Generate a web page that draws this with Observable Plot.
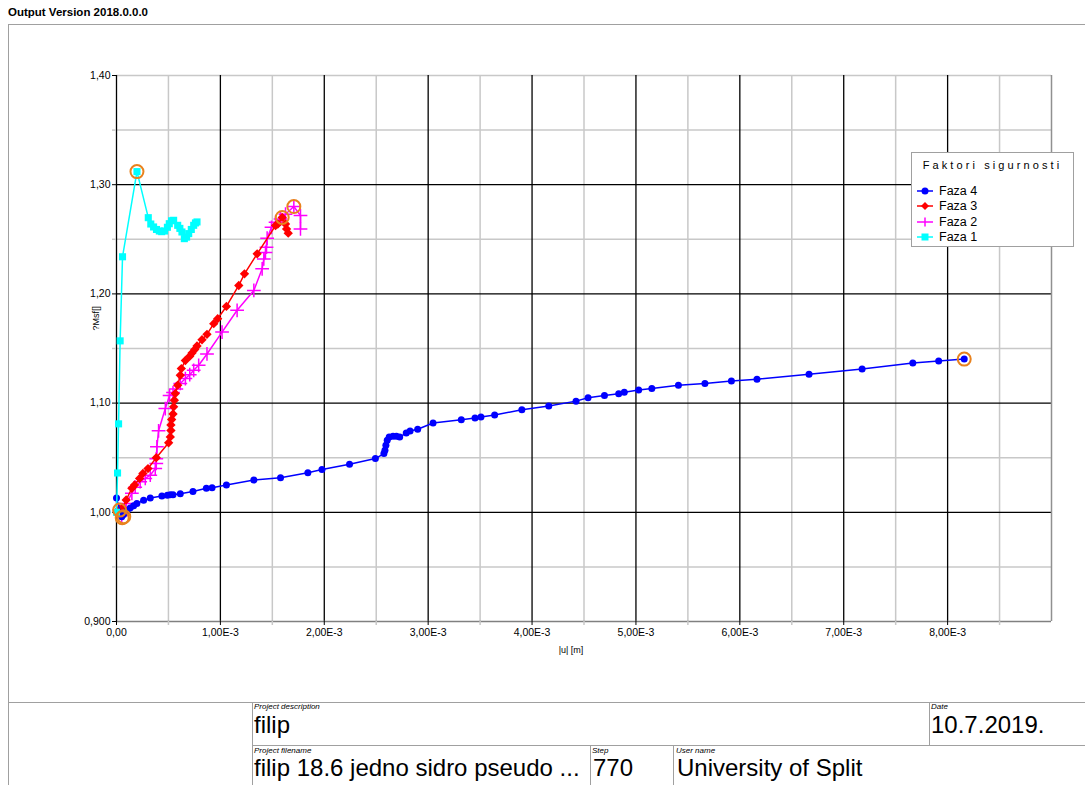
<!DOCTYPE html>
<html>
<head>
<meta charset="utf-8">
<script src="https://cdn.jsdelivr.net/npm/d3@7"></script>
<script src="https://cdn.jsdelivr.net/npm/@observablehq/plot@0.6"></script>
<style>
  body { margin:0; background:#fff; font-family:"Liberation Sans", Arial, sans-serif; }
  #page { position:relative; width:1085px; height:785px; overflow:hidden; background:#fff; }
  .abs { position:absolute; }
  .hl { position:absolute; height:0; border-top:1.5px solid #a0a0a0; }
  .vl { position:absolute; width:0; border-left:1.5px solid #a0a0a0; }
  .lbl { position:absolute; font-size:8px; font-style:italic; color:#000; white-space:nowrap; line-height:8px; }
  .big { position:absolute; font-size:24px; color:#000; white-space:nowrap; line-height:24px; }
  #legend { position:absolute; left:911px; top:152px; width:161px; height:93px; border:1.5px solid #a0a0a0; background:#fff; }
  #legend .title { position:absolute; left:0; top:6px; width:161px; text-align:center; font-size:11px; letter-spacing:3.1px; white-space:nowrap; }
  #legend .row { position:absolute; left:5px; height:14px; display:flex; align-items:center; font-size:12.5px; }
  #legend .row svg { margin-right:6px; }
</style>
</head>
<body>
<div id="page">
  <div class="abs" style="left:8px;top:6px;font-weight:bold;font-size:11.5px;white-space:nowrap;">Output Version 2018.0.0.0</div>
  <div class="hl" style="left:8px;top:24px;width:1077px;"></div>
  <div class="vl" style="left:8px;top:24px;height:761px;"></div>
  <div id="chart" class="abs" style="left:0;top:30px;"></div>
  <div id="legend"></div>
  <div class="hl" style="left:8px;top:702px;width:1077px;"></div>
  <div class="vl" style="left:252px;top:702px;height:83px;"></div>
  <div class="vl" style="left:929px;top:702px;height:44px;"></div>
  <div class="hl" style="left:252px;top:745px;width:833px;"></div>
  <div class="vl" style="left:590px;top:745px;height:40px;"></div>
  <div class="vl" style="left:673px;top:745px;height:40px;"></div>
  <div class="lbl" style="left:254px;top:703px;">Project description</div>
  <div class="big" style="left:254px;top:713px;">filip</div>
  <div class="lbl" style="left:931px;top:703px;">Date</div>
  <div class="big" style="left:931px;top:713px;">10.7.2019.</div>
  <div class="lbl" style="left:254px;top:746.5px;">Project filename</div>
  <div class="big" style="left:254px;top:756px;">filip 18.6 jedno sidro pseudo ...</div>
  <div class="lbl" style="left:592px;top:746.5px;">Step</div>
  <div class="big" style="left:593px;top:756px;">770</div>
  <div class="lbl" style="left:676px;top:746.5px;">User name</div>
  <div class="big" style="left:677px;top:756px;">University of Split</div>
</div>
<script>
// |u| in units of 1E-3 m, Msf dimensionless
const faza4U = [0.0, 0.05, 0.068, 0.10, 0.132, 0.165, 0.196, 0.261, 0.325, 0.437, 0.49, 0.518, 0.544, 0.614, 0.736, 0.865, 0.920, 1.058, 1.322, 1.579, 1.842, 1.978, 2.243, 2.492, 2.574, 2.584, 2.593, 2.606, 2.625, 2.662, 2.694, 2.726, 2.789, 2.826, 2.899, 3.047, 3.319, 3.451, 3.508, 3.640, 3.902, 4.161, 4.423, 4.539, 4.697, 4.834, 4.888, 5.026, 5.153, 5.409, 5.664, 5.919, 6.165, 6.666, 7.177, 7.665, 7.914, 8.160];
const faza4Msf = [1.013, 0.996, 0.998, 1.001, 1.004, 1.006, 1.008, 1.011, 1.013, 1.015, 1.0155, 1.016, 1.016, 1.017, 1.019, 1.022, 1.0225, 1.025, 1.0295, 1.0317, 1.0362, 1.0392, 1.0441, 1.0492, 1.0538, 1.0568, 1.0614, 1.066, 1.069, 1.0696, 1.0696, 1.069, 1.0726, 1.0745, 1.076, 1.0818, 1.0848, 1.0863, 1.0872, 1.0891, 1.0939, 1.0973, 1.1018, 1.1049, 1.107, 1.1085, 1.110, 1.1121, 1.1133, 1.1164, 1.1179, 1.1203, 1.1218, 1.1264, 1.1312, 1.1367, 1.1385, 1.1403];

const faza3U = [0.03, 0.06, 0.093, 0.148, 0.174, 0.222, 0.254, 0.303, 0.383, 0.502, 0.518, 0.524, 0.524, 0.531, 0.544, 0.550, 0.557, 0.566, 0.589, 0.614, 0.624, 0.663, 0.705, 0.727, 0.753, 0.775, 0.823, 0.871, 0.936, 0.974, 1.058, 1.177, 1.232, 1.354, 1.531, 1.553, 1.595, 1.627, 1.637, 1.653];
const faza3Msf = [1.003, 1.004, 1.0113, 1.022, 1.025, 1.031, 1.0356, 1.040, 1.050, 1.0637, 1.069, 1.075, 1.080, 1.085, 1.090, 1.0966, 1.1026, 1.1087, 1.1164, 1.1255, 1.1316, 1.139, 1.1429, 1.1459, 1.149, 1.1523, 1.158, 1.163, 1.1727, 1.1773, 1.1885, 1.2077, 1.2184, 1.2367, 1.2626, 1.264, 1.270, 1.264, 1.2595, 1.2556];

const faza2U = [0.05, 0.093, 0.148, 0.18, 0.228, 0.277, 0.325, 0.373, 0.383, 0.383, 0.389, 0.405, 0.470, 0.511, 0.544, 0.576, 0.614, 0.663, 0.705, 0.743, 0.791, 0.871, 1.016, 1.161, 1.322, 1.402, 1.418, 1.434, 1.444, 1.450, 1.492, 1.531, 1.579, 1.627, 1.707, 1.771, 1.771];
const faza2Msf = [0.997, 1.008, 1.0174, 1.023, 1.028, 1.031, 1.034, 1.040, 1.0448, 1.049, 1.060, 1.0746, 1.095, 1.107, 1.1097, 1.113, 1.118, 1.1225, 1.126, 1.130, 1.1346, 1.145, 1.165, 1.185, 1.2032, 1.223, 1.232, 1.238, 1.2428, 1.251, 1.261, 1.2656, 1.2687, 1.273, 1.280, 1.2717, 1.2595];

const faza1U = [0.0, 0.01, 0.02, 0.035, 0.058, 0.197, 0.306, 0.33, 0.357, 0.385, 0.412, 0.435, 0.463, 0.49, 0.508, 0.53, 0.550, 0.589, 0.61, 0.630, 0.653, 0.675, 0.695, 0.72, 0.743, 0.76, 0.775];
const faza1Msf = [1.000, 1.036, 1.081, 1.157, 1.234, 1.312, 1.2698, 1.264, 1.2613, 1.259, 1.2576, 1.257, 1.2576, 1.261, 1.2643, 1.267, 1.2674, 1.2628, 1.260, 1.2567, 1.2506, 1.252, 1.2552, 1.259, 1.2628, 1.265, 1.2659];

// highlighted (circled) points
const markedU = [0.197, 1.595, 1.707, 8.160, 0.03, 0.055, 0.07];
const markedMsf = [1.312, 1.270, 1.280, 1.1403, 1.002, 0.995, 0.996];

const xMajor = [1, 2, 3, 4, 5, 6, 7, 8];
const xMinor = [0.5, 1.5, 2.5, 3.5, 4.5, 5.5, 6.5, 7.5, 8.5];
const yMajor = [1.0, 1.1, 1.2, 1.3];
const yMinor = [0.95, 1.05, 1.15, 1.25, 1.35, 1.40];
const xTickLabels = ["0,00", "1,00E-3", "2,00E-3", "3,00E-3", "4,00E-3", "5,00E-3", "6,00E-3", "7,00E-3", "8,00E-3"];
const yTickLabels = ["0,900", "1,00", "1,10", "1,20", "1,30", "1,40"];

const colors = {"Faza 4": "#0000ff", "Faza 3": "#ff0000", "Faza 2": "#ff00ff", "Faza 1": "#00ffff"};

const tbl = (U, M) => U.map((u, i) => ({u, msf: M[i]}));
const f4 = tbl(faza4U, faza4Msf), f3 = tbl(faza3U, faza3Msf), f2 = tbl(faza2U, faza2Msf), f1 = tbl(faza1U, faza1Msf);
const marked = tbl(markedU, markedMsf);

const xLab = d => xTickLabels[Math.round(d)];
const yLab = d => yTickLabels[Math.round((d - 0.9) * 10)];

const chart = Plot.plot({
  width: 1085, height: 660,
  marginLeft: 116, marginRight: 34, marginTop: 45, marginBottom: 69,
  x: {domain: [0, 9]},
  y: {domain: [0.9, 1.4]},
  style: {fontFamily: "'Liberation Sans', Arial, sans-serif", fontSize: "10px", background: "transparent", overflow: "visible"},
  marks: [
    Plot.ruleX(xMinor, {stroke: "#c8c8c8", strokeWidth: 1.5}),
    Plot.ruleY(yMinor, {stroke: "#c8c8c8", strokeWidth: 1.5}),
    Plot.ruleX(xMajor, {stroke: "#000", strokeWidth: 1.3}),
    Plot.ruleY(yMajor, {stroke: "#000", strokeWidth: 1.3}),
    Plot.ruleX([9], {stroke: "#909090", strokeWidth: 1.5}),
    Plot.ruleY([0.9], {stroke: "#808080", strokeWidth: 1.5}),
    Plot.ruleX([0], {stroke: "#000", strokeWidth: 1.3}),
    Plot.axisX({ticks: xMinor, tickSize: 4, stroke: "#c8c8c8", strokeWidth: 1.5, tickFormat: () => "", label: null}),
    Plot.axisX({ticks: [0, ...xMajor], tickSize: 4, tickPadding: 3, stroke: "#000", tickFormat: xLab, label: null, fontSize: 10.5}),
    Plot.axisY({ticks: yMinor.slice(0, 5), tickSize: 4, stroke: "#c8c8c8", strokeWidth: 1.5, tickFormat: () => "", label: null}),
    Plot.axisY({ticks: [0.9, ...yMajor, 1.4], tickSize: 4, tickPadding: 2, stroke: "#000", tickFormat: yLab, label: null, fontSize: 10.5}),
    Plot.text(["?Msf[]"], {frameAnchor: "left", dx: -20, dy: -18, rotate: -90, fontSize: 9}),
    Plot.text(["|u| [m]"], {frameAnchor: "bottom", dx: -13, dy: 31, fontSize: 9}),
    Plot.line(f2, {x: "u", y: "msf", stroke: colors["Faza 2"], strokeWidth: 1.5}),
    Plot.dot(f2, {x: "u", y: "msf", symbol: "plus", stroke: colors["Faza 2"], strokeWidth: 1.5, r: 4.5}),
    Plot.line(f3, {x: "u", y: "msf", stroke: colors["Faza 3"], strokeWidth: 1.5}),
    Plot.dot(f3, {x: "u", y: "msf", symbol: "diamond2", fill: colors["Faza 3"], stroke: "none", r: 4.2}),
    Plot.line(f4, {x: "u", y: "msf", stroke: colors["Faza 4"], strokeWidth: 1.5}),
    Plot.dot(f4, {x: "u", y: "msf", fill: colors["Faza 4"], r: 3.5}),
    Plot.line(f1, {x: "u", y: "msf", stroke: colors["Faza 1"], strokeWidth: 1.5}),
    Plot.dot(f1, {x: "u", y: "msf", symbol: "square", fill: colors["Faza 1"], r: 4}),
    Plot.dot(marked, {x: "u", y: "msf", stroke: "#e8821e", strokeWidth: 2, r: 6.5, fill: "none"})
  ]
});
document.getElementById("chart").appendChild(chart);

// legend
const leg = document.getElementById("legend");
const title = document.createElement("div");
title.className = "title";
title.textContent = "Faktori sigurnosti";
leg.appendChild(title);
const entries = [
  {name: "Faza 4", sym: "circle"},
  {name: "Faza 3", sym: "diamond"},
  {name: "Faza 2", sym: "plus"},
  {name: "Faza 1", sym: "square"}
];
const symPath = {
  circle: c => `<circle cx="8" cy="7" r="3.5" fill="${c}"/>`,
  diamond: c => `<path d="M8,3L12,7L8,11L4,7Z" fill="${c}"/>`,
  plus: c => `<path d="M8,2.5V11.5" stroke="${c}" stroke-width="1.5"/>`,
  square: c => `<rect x="4.5" y="3.5" width="7" height="7" fill="${c}"/>`
};
entries.forEach((e, i) => {
  const row = document.createElement("div");
  row.className = "row";
  row.style.top = (31 + i * 15.3) + "px";
  const c = colors[e.name];
  row.innerHTML = `<svg width="16" height="14"><line x1="0" y1="7" x2="16" y2="7" stroke="${c}" stroke-width="1.5"/>${symPath[e.sym](c)}</svg><span>${e.name}</span>`;
  leg.appendChild(row);
});
</script>
</body>
</html>
